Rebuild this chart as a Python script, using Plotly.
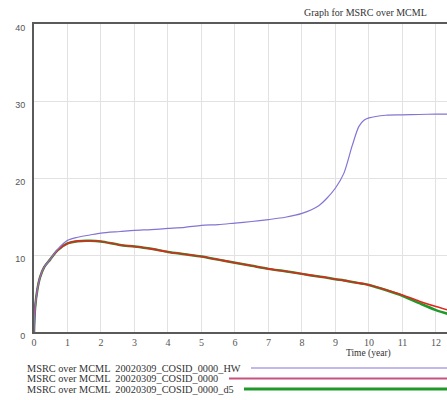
import plotly.graph_objects as go

# Simulation time (years)
time_years = [0, 0.03, 0.1, 0.18, 0.3, 0.48, 0.7, 1.0, 1.3, 1.67, 2.0, 2.57, 3.0, 3.5,
              4.0, 4.5, 5.0, 5.5, 6.0, 6.5, 7.0, 7.5, 8.0, 8.5, 8.75, 9.0, 9.25, 9.5,
              9.7, 9.85, 10.0, 10.5, 11.0, 11.5, 12.0, 12.4]

# MSRC over MCML, run 20020309_COSID_0000_HW
msrc_hw = [0, 3.0, 5.5, 7.1, 8.4, 9.4, 10.7, 11.9, 12.3, 12.6, 12.85, 13.05, 13.2, 13.3,
           13.45, 13.6, 13.85, 13.95, 14.15, 14.35, 14.6, 14.9, 15.4, 16.4, 17.4, 18.7,
           20.6, 24.2, 26.7, 27.5, 27.8, 28.15, 28.2, 28.25, 28.3, 28.3]

# MSRC over MCML, run 20020309_COSID_0000
msrc_base = [0, 3.0, 5.5, 7.1, 8.4, 9.4, 10.6, 11.5, 11.8, 11.85, 11.75, 11.3, 11.1, 10.8,
             10.4, 10.1, 9.8, 9.4, 9.0, 8.6, 8.2, 7.9, 7.55, 7.2, 7.05, 6.85, 6.7, 6.5,
             6.35, 6.25, 6.1, 5.5, 4.8, 4.0, 3.3, 2.8]

# MSRC over MCML, run 20020309_COSID_0000_d5
msrc_d5 = [0, 3.0, 5.5, 7.1, 8.4, 9.4, 10.6, 11.5, 11.8, 11.85, 11.75, 11.3, 11.1, 10.8,
           10.4, 10.1, 9.8, 9.4, 9.0, 8.6, 8.2, 7.9, 7.55, 7.2, 7.05, 6.85, 6.7, 6.5,
           6.35, 6.25, 6.1, 5.45, 4.7, 3.75, 2.85, 2.3]

legend_labels = ["MSRC over MCML  20020309_COSID_0000_HW",
                 "MSRC over MCML  20020309_COSID_0000",
                 "MSRC over MCML  20020309_COSID_0000_d5"]
x_ticks = list(range(0, 13))
y_ticks = [0, 10, 20, 30, 40]

fig = go.Figure()
fig.add_trace(go.Scatter(x=time_years, y=msrc_d5, mode="lines",
                         line=dict(color="#1f9a2a", width=2.5, shape="spline", smoothing=0.8),
                         showlegend=False))
fig.add_trace(go.Scatter(x=time_years, y=msrc_base, mode="lines",
                         line=dict(color="#e0261e", width=1.6, shape="spline", smoothing=0.8),
                         showlegend=False))
fig.add_trace(go.Scatter(x=time_years, y=msrc_hw, mode="lines",
                         line=dict(color="#8474d4", width=1.2, shape="spline", smoothing=0.8),
                         showlegend=False))

tick_font = dict(family="Liberation Serif", size=10, color="#555555")

fig.update_layout(
    width=447, height=400,
    margin=dict(l=34, r=0, t=24, b=68),
    paper_bgcolor="white", plot_bgcolor="white",
    xaxis=dict(range=[0, 12.33], tickvals=x_ticks, ticktext=[str(v) for v in x_ticks],
               showgrid=True, gridcolor="#e2e2e2", gridwidth=1,
               showline=True, linecolor="#5a5a5a", linewidth=2, mirror=True,
               zeroline=False, ticks="", tickfont=tick_font, ticklabelstandoff=0),
    yaxis=dict(range=[0, 40], tickvals=y_ticks, ticktext=[str(v) for v in y_ticks],
               showgrid=True, gridcolor="#e2e2e2", gridwidth=1,
               showline=True, linecolor="#5a5a5a", linewidth=2,
               zeroline=False, ticks="", ticklabelstandoff=5, ticklabelshift=4,
               tickfont=dict(family="Liberation Sans", size=9, color="#555555")),
    showlegend=False,
)

# Chart title and axis title
fig.add_annotation(text="Graph for MSRC over MCML", xref="paper", yref="paper",
                   x=(365 - 34) / 413, y=1, xanchor="center", yanchor="middle",
                   yshift=12, showarrow=False,
                   font=dict(family="Liberation Serif", size=10, color="#333333"))
fig.add_annotation(text="Time (year)", xref="x", yref="paper", x=10, y=0,
                   xanchor="center", yanchor="top", yshift=-14, showarrow=False,
                   font=dict(family="Liberation Serif", size=9.5, color="#333333"))

# Legend rows: label followed by a line sample running to the right edge
legend_colors = ["#8474d4", "#c4537f", "#1f9a2a"]
legend_widths = [1.2, 2, 3]
legend_y = [368, 378.5, 389]
legend_line_start = [251, 229, 244]
for label, color, w, ypix, xs in zip(legend_labels, legend_colors, legend_widths,
                                     legend_y, legend_line_start):
    yp = (400 - 68 - ypix) / (400 - 24 - 68)
    fig.add_annotation(text=label, xref="paper", yref="paper",
                       x=(25 - 34) / 413, y=yp, xanchor="left", yanchor="middle",
                       showarrow=False,
                       font=dict(family="Liberation Serif", size=10.3, color="#333333"))
    fig.add_shape(type="line", xref="paper", yref="paper",
                  x0=(xs - 34) / 413, x1=1.0, y0=yp, y1=yp,
                  line=dict(color=color, width=w))

fig.write_html("out.html")
